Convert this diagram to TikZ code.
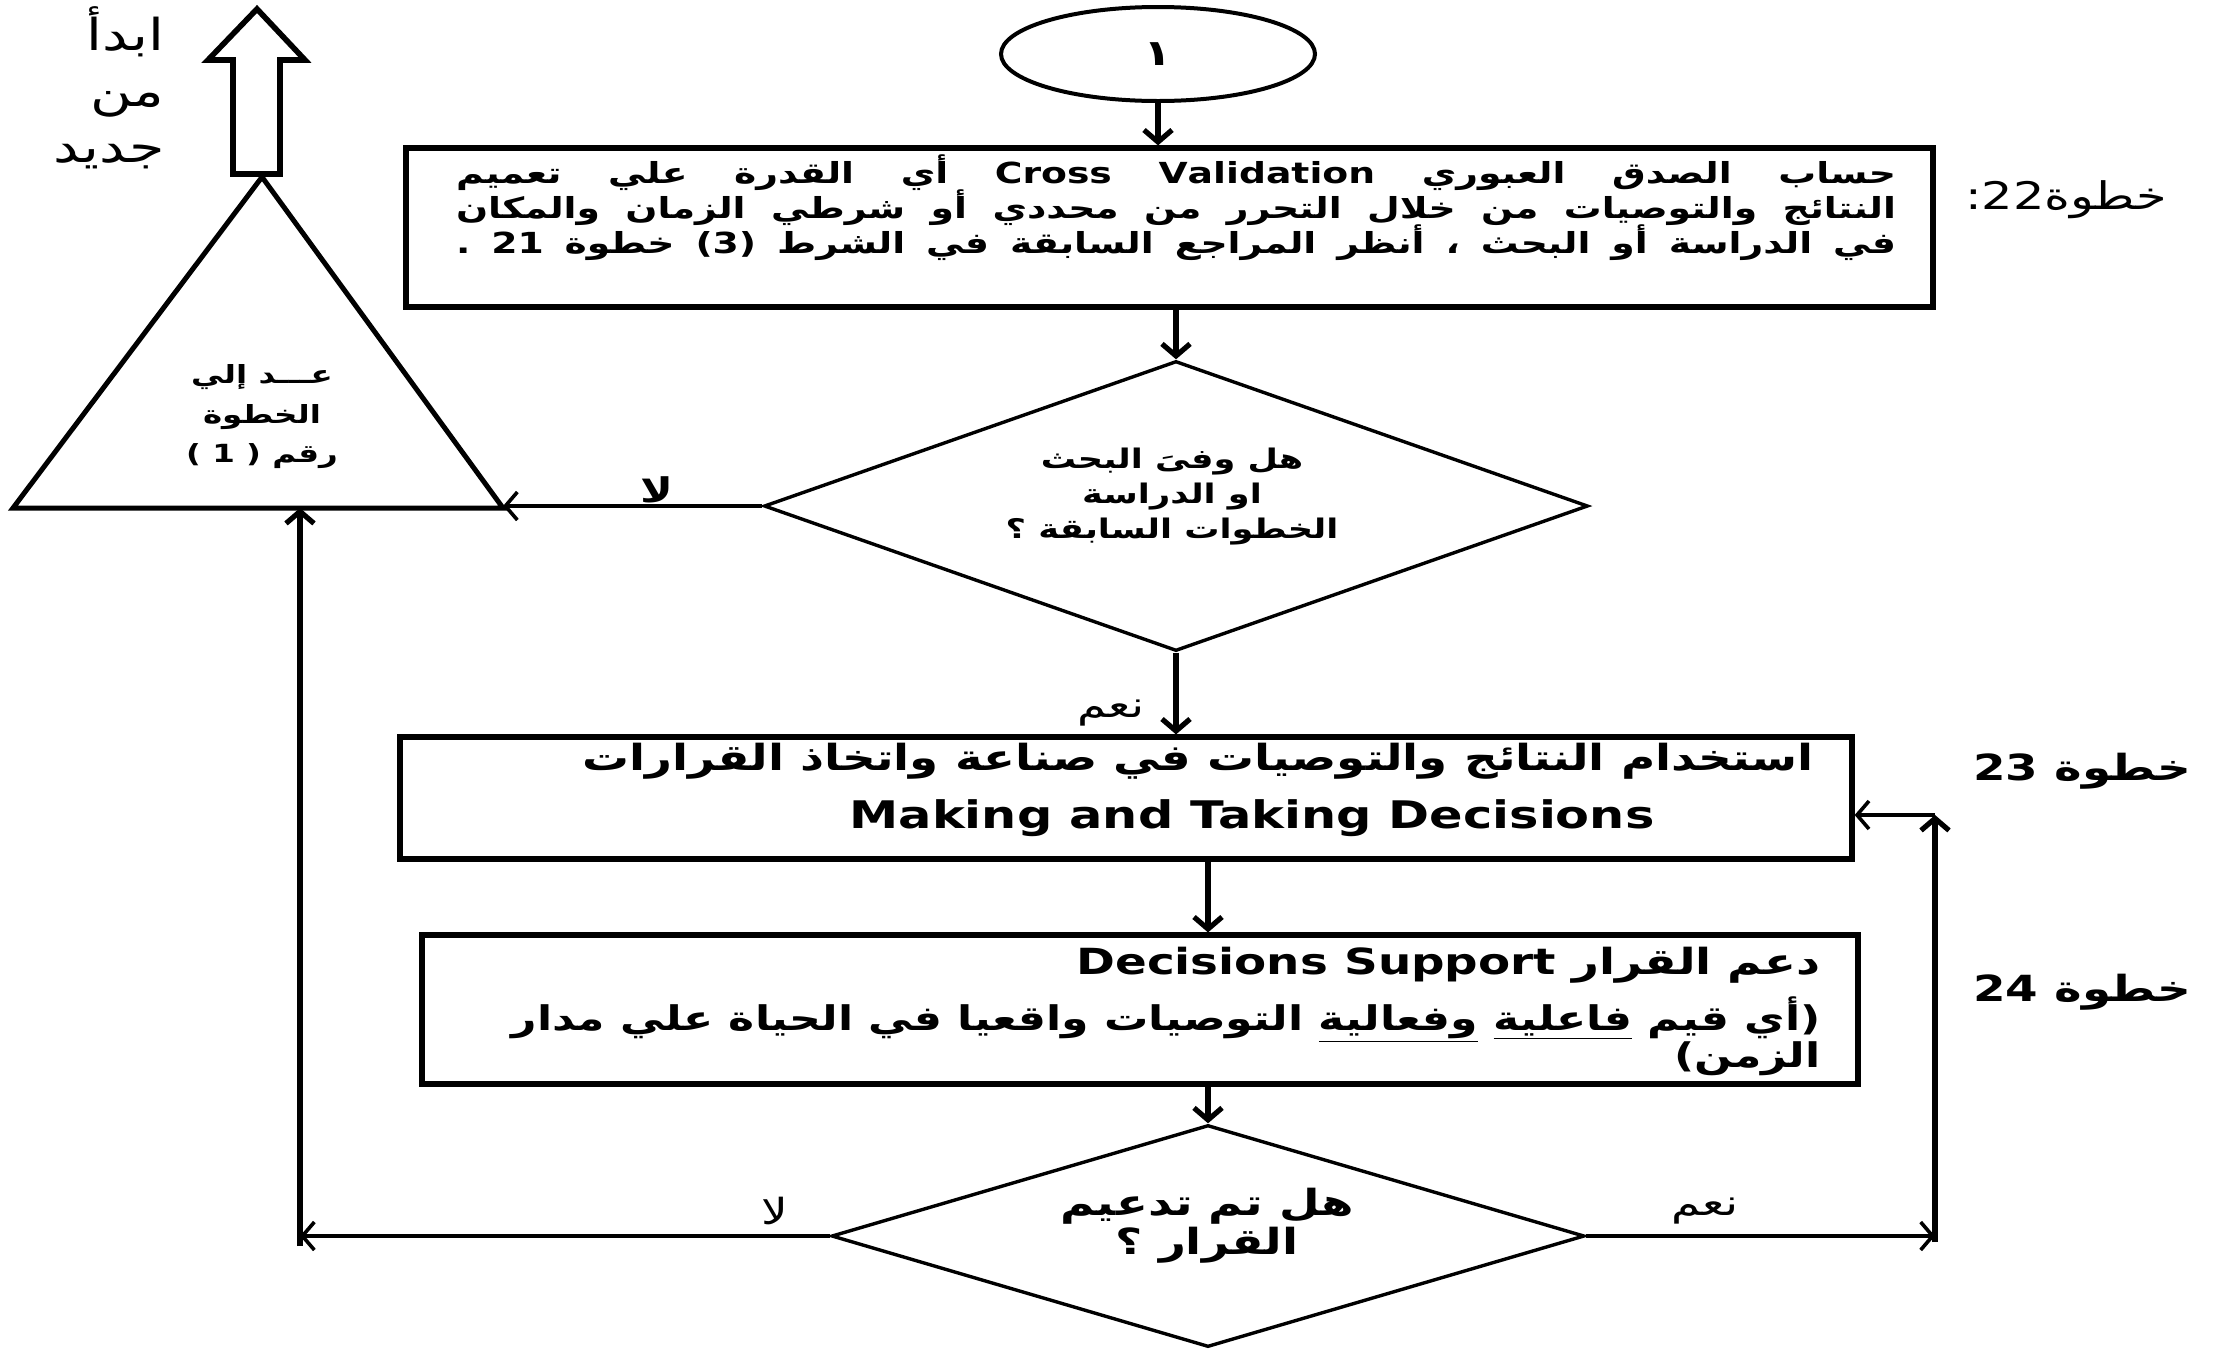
\documentclass[tikz,border=0pt]{standalone}
\usepackage{fontspec}
\setmainfont{DejaVu Sans}[FakeStretch=1.3]
\newfontfamily\arabicfont[Script=Arabic,FakeStretch=1.3]{DejaVu Sans}
\TeXXeTstate=1
\usetikzlibrary{shapes.geometric,arrows.meta}
\newcommand\tightlines{\lineskiplimit-20pt\relax}

\tikzset{
  stepbox/.style={draw,line width=2.6pt,inner sep=0pt},
  askbox/.style={draw,diamond,line width=1.7pt,inner sep=0pt},
  flow/.style={line width=2.6pt,-{Straight Barb[length=6pt,width=14pt]}},
  side/.style={line width=1.8pt,-{Straight Barb[length=6pt,width=14pt]}},
  txt/.style={inner sep=0pt,font=\arabicfont}
}

\begin{document}
\begin{tikzpicture}[x=0.5pt,y=-0.5pt]
\useasboundingbox (0,0) rectangle (2219,1350);

\node[draw,ellipse,line width=2pt,minimum width=157pt,minimum height=47pt,inner sep=0pt] (start) at (1158,54)
  {\arabicfont\bfseries\fontsize{18}{18}\selectfont ١};
\node[stepbox,minimum width=763.5pt,minimum height=79.5pt] (cv) at (1169.5,227.5) {};
\node[askbox,minimum width=412pt,minimum height=145pt] (q1) at (1176,506) {};
\node[stepbox,minimum width=726pt,minimum height=61pt] (use) at (1126,798) {};
\node[stepbox,minimum width=718pt,minimum height=74.5pt] (sup) at (1140,1009.5) {};
\node[askbox,minimum width=376.5pt,minimum height=111pt] (q2) at (1208,1236) {};

\coordinate (apex) at (262,177);
\coordinate (tl) at (13,508);
\coordinate (tr) at (503,508);
\coordinate (tback) at (300,508);
\draw[line width=2.5pt,line join=miter] (apex) -- (tl) -- (tr) -- cycle;
\draw[line width=2.8pt,fill=white] (233,174) -- (233,60) -- (208,60) -- (257,9) -- (305,60) -- (280,60) -- (280,174) -- cycle;

\node[txt,anchor=east,align=right,font=\arabicfont\fontsize{22}{28}\selectfont] (again) at (165,88)
  {\beginR ابدأ\endR\\\beginR من\endR\\\beginR جديد\endR};
\node[txt,align=center,font=\arabicfont\bfseries\fontsize{12.5}{19.75}\selectfont] (goback) at (262,417)
  {\beginR عـــد إلي\endR\\\beginR الخطوة\endR\\\beginR رقم \beginL{\rmfamily( 1 )}\endL\endR};

\node[txt,font=\arabicfont\bfseries\fontsize{14.5}{17.5}\selectfont\tightlines,align=right] (cvtxt) at (1176,208)
  {\makebox[720pt][s]{\beginR حساب الصدق العبوري \beginL Cross Validation\endL{} أي القدرة علي تعميم\endR}\\
   \makebox[720pt][s]{\beginR النتائج والتوصيات من خلال التحرر من محددي أو شرطي الزمان والمكان\endR}\\
   \makebox[720pt][s]{\beginR في الدراسة أو البحث ، أنظر المراجع السابقة في الشرط (3) خطوة 21 .\endR}};

\node[txt,align=center,font=\arabicfont\bfseries\fontsize{13.5}{17.5}\selectfont] (q1txt) at (1172,497)
  {\beginR هل وفىَ البحث\endR\\\beginR او الدراسة\endR\\\beginR الخطوات السابقة ؟\endR};

\node[txt,anchor=east,font=\arabicfont\bfseries\fontsize{18}{18}\selectfont] (usetxt) at (1814,761)
  {\beginR استخدام النتائج والتوصيات في صناعة واتخاذ القرارات\endR};
\node[txt,font=\bfseries\fontsize{19}{19}\selectfont] (usetxten) at (1252,818) {Making and Taking Decisions};

\node[txt,anchor=east,font=\arabicfont\bfseries\fontsize{18}{18}\selectfont] (suptxt) at (1821,965)
  {\beginR دعم القرار \beginL Decisions Support\endL\endR};
\node[txt,anchor=east,align=right,font=\arabicfont\bfseries\fontsize{17}{18.5}\selectfont\tightlines] (supmore) at (1821,1036)
  {\beginR (أي قيم \underline{فاعلية} \underline{وفعالية} التوصيات واقعيا في الحياة علي مدار\endR\\
   \beginR الزمن)\endR};

\node[txt,align=center,font=\arabicfont\bfseries\fontsize{18}{19.5}\selectfont] (q2txt) at (1207,1226)
  {\beginR هل تم تدعيم\endR\\\beginR القرار ؟\endR};

\node[txt,font=\arabicfont\fontsize{19}{19}\selectfont] (s22) at (2066,200)
  {\beginR خطوة\beginL22\endL:\endR};
\node[txt,font=\arabicfont\bfseries\fontsize{18}{18}\selectfont] (s23) at (2082,771) {\beginR خطوة 23\endR};
\node[txt,font=\arabicfont\bfseries\fontsize{18}{18}\selectfont] (s24) at (2082,992) {\beginR خطوة 24\endR};

\draw[flow] (start.south) -- (start.south |- cv.north);
\draw[flow] (q1.north |- cv.south) -- (q1.north);
\draw[side] (q1.west) -- (q1.west -| tr);
\draw[flow] (q1.south) -- (q1.south |- use.north);
\draw[flow] (q2.north |- use.south) -- (q2.north |- sup.north);
\draw[flow] (q2.north |- sup.south) -- (q2.north);

\coordinate (lturn) at (300,1236);
\coordinate (lfoot) at (300,1246);
\coordinate (rturn) at (1935,1236);
\coordinate (rfoot) at (1935,1242);
\coordinate (rtop) at (1935,815);
\draw[side] (q2.west) -- (lturn);
\draw[flow] (lfoot) -- (tback);
\draw[side] (q2.east) -- (rturn);
\draw[flow] (rfoot) -- (rtop);
\draw[side] (rtop) -- (rtop -| use.east);

\node[txt,font=\arabicfont\bfseries\fontsize{17}{17}\selectfont] (no1) at (657,490) {لا};
\node[txt,font=\arabicfont\fontsize{18}{18}\selectfont] (yes1) at (1111,713) {نعم};
\node[txt,font=\arabicfont\fontsize{18}{18}\selectfont] (no2) at (775,1211) {لا};
\node[txt,font=\arabicfont\fontsize{18}{18}\selectfont] (yes2) at (1705,1211) {نعم};
\end{tikzpicture}
\end{document}
